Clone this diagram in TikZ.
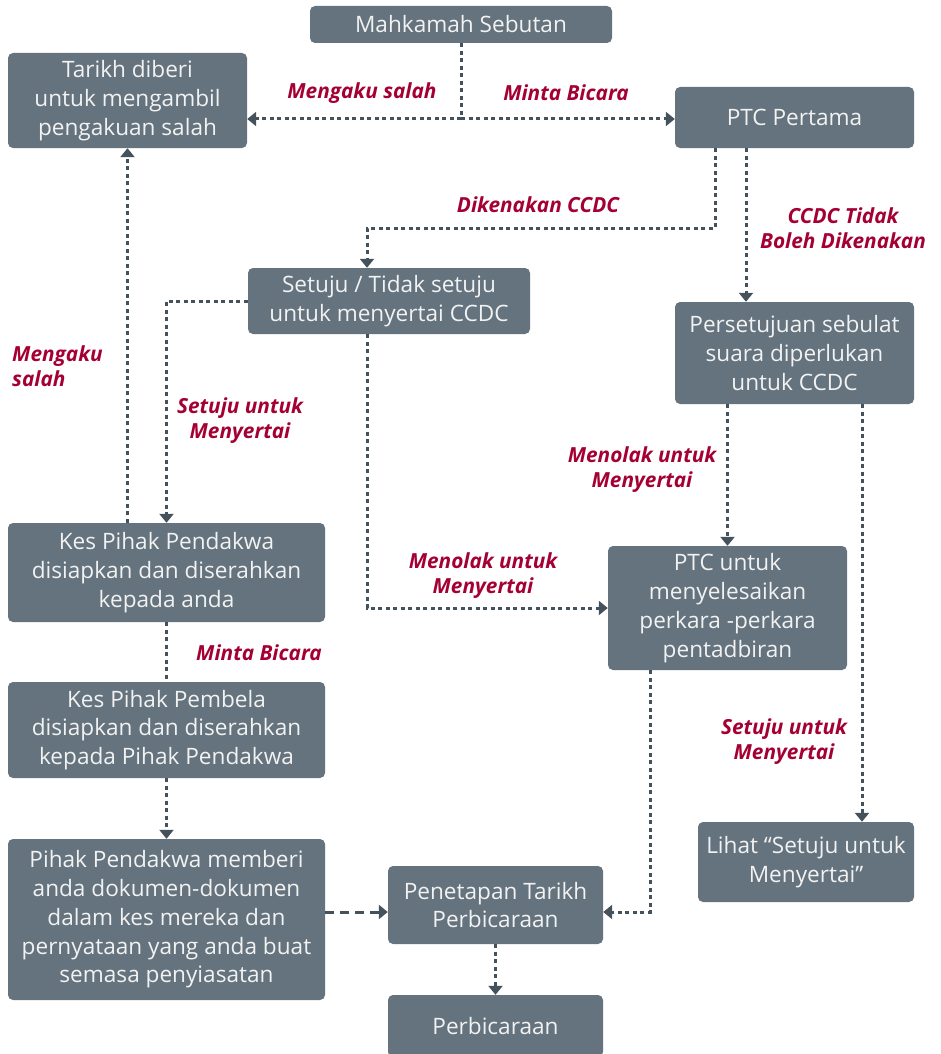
\documentclass[tikz,border=0pt]{standalone}
\usepackage{fontspec}
\setmainfont{Open Sans}
\usetikzlibrary{arrows.meta}
\definecolor{boxfill}{HTML}{64737D}
\definecolor{linecol}{HTML}{45525C}
\definecolor{labcol}{HTML}{A50034}
\begin{document}
\begin{tikzpicture}[x=1pt,y=-1pt,
  box/.style={draw=none,fill=boxfill,rounded corners=5pt,text=white!95!black,
    align=center,inner sep=0pt,font=\fontsize{22.6}{28.8}\selectfont},
  lab/.style={text=labcol,align=center,inner sep=0pt,
    font=\fontsize{20.8}{25}\selectfont\bfseries\itshape},
  conn/.style={draw=linecol,line width=3pt,dash pattern=on 4pt off 3.5pt},
  arr/.style={conn,-{Triangle[width=14pt,length=9pt]}},
  arrlong/.style={draw=linecol,line width=3pt,dash pattern=on 9pt off 6pt,-{Triangle[width=14pt,length=9pt]}}]
\useasboundingbox (0,0) rectangle (941,1054);
% boxes
\node[box,minimum width=302pt,minimum height=37pt] (mahk) at (461,24.5) {Mahkamah Sebutan};
\node[box,minimum width=239pt,minimum height=95pt] (tarikh) at (127.5,100.5) {Tarikh diberi\\untuk mengambil\\pengakuan salah};
\node[box,minimum width=239pt,minimum height=61pt] (ptc1) at (794.5,117.5) {PTC Pertama};
\node[box,minimum width=282pt,minimum height=66pt] (setuju) at (389,301) {Setuju / Tidak setuju\\untuk menyertai CCDC};
\node[box,minimum width=239pt,minimum height=102pt] (persetujuan) at (794.5,353) {Persetujuan sebulat\\suara diperlukan\\untuk CCDC};
\node[box,minimum width=317pt,minimum height=99pt] (kespd) at (166.5,572.5) {Kes Pihak Pendakwa\\disiapkan dan diserahkan\\kepada anda};
\node[box,minimum width=239pt,minimum height=124pt] (ptcuntuk) at (727.5,608) {PTC untuk\\menyelesaikan\\perkara -perkara\\pentadbiran};
\node[box,minimum width=317pt,minimum height=96pt] (kespb) at (166.5,730) {Kes Pihak Pembela\\disiapkan dan diserahkan\\kepada Pihak Pendakwa};
\node[box,minimum width=216pt,minimum height=80pt] (lihat) at (806,862) {Lihat “Setuju untuk\\Menyertai”};
\node[box,minimum width=317pt,minimum height=161pt] (ppm) at (166.5,919.5) {Pihak Pendakwa memberi\\anda dokumen-dokumen\\dalam kes mereka dan\\pernyataan yang anda buat\\semasa penyiasatan};
\node[box,minimum width=215pt,minimum height=78pt] (penetapan) at (495.5,905) {Penetapan Tarikh\\Perbicaraan};
\node[box,minimum width=215pt,minimum height=62pt] (perbic) at (495.5,1026) {Perbicaraan};
% connectors
\coordinate (j1) at (461,119);
\draw[conn] (mahk.south) -- (j1);
\draw[arr] (j1) -- (j1 -| tarikh.east);
\draw[arr] (j1) -- (j1 -| ptc1.west);
\draw[arr] ([xshift=-79.5pt]ptc1.south) -- ++(0,80) -| ([xshift=-22pt]setuju.north);
\draw[arr] ([xshift=-48.5pt]ptc1.south) -- ([xshift=-48.5pt]persetujuan.north);
\draw[arr] (setuju.west) -| (kespd.north);
\draw[arr] ([xshift=-22pt]setuju.south) |- (ptcuntuk.west);
\draw[arr] ([xshift=-39pt]kespd.north) -- (tarikh.south);
\draw[arr] (ptcuntuk.north |- persetujuan.south) -- (ptcuntuk.north);
\draw[arr] ([xshift=67.5pt]persetujuan.south) -- ([xshift=67.5pt]persetujuan.south |- lihat.north);
\draw[conn] (kespd.south) -- (kespb.north);
\draw[arr] (kespb.south) -- (ppm.north);
\draw[arrlong] ([yshift=-7pt]penetapan.west -| ppm.east) -- ([yshift=-7pt]penetapan.west);
\draw[arr] ([xshift=-77.5pt]ptcuntuk.south) |- ([yshift=-7pt]penetapan.east);
\draw[arr] (penetapan.south) -- (perbic.north);
% labels
\node[lab] (l1) at (362,93) {Mengaku salah};
\node[lab] (l2) at (566,93) {Minta Bicara};
\node[lab] (l3) at (538,205) {Dikenakan CCDC};
\node[lab] (l4) at (843,228) {CCDC Tidak\\Boleh Dikenakan};
\node[lab,align=left,anchor=west] (l5) at (12,366) {Mengaku\\salah};
\node[lab] (l6) at (240,421) {Setuju untuk\\Menyertai};
\node[lab] (l7) at (642,470) {Menolak untuk\\Menyertai};
\node[lab] (l8) at (483,576) {Menolak untuk\\Menyertai};
\node[lab] (l9) at (259,653) {Minta Bicara};
\node[lab] (l10) at (784,742) {Setuju untuk\\Menyertai};
\end{tikzpicture}
\end{document}
